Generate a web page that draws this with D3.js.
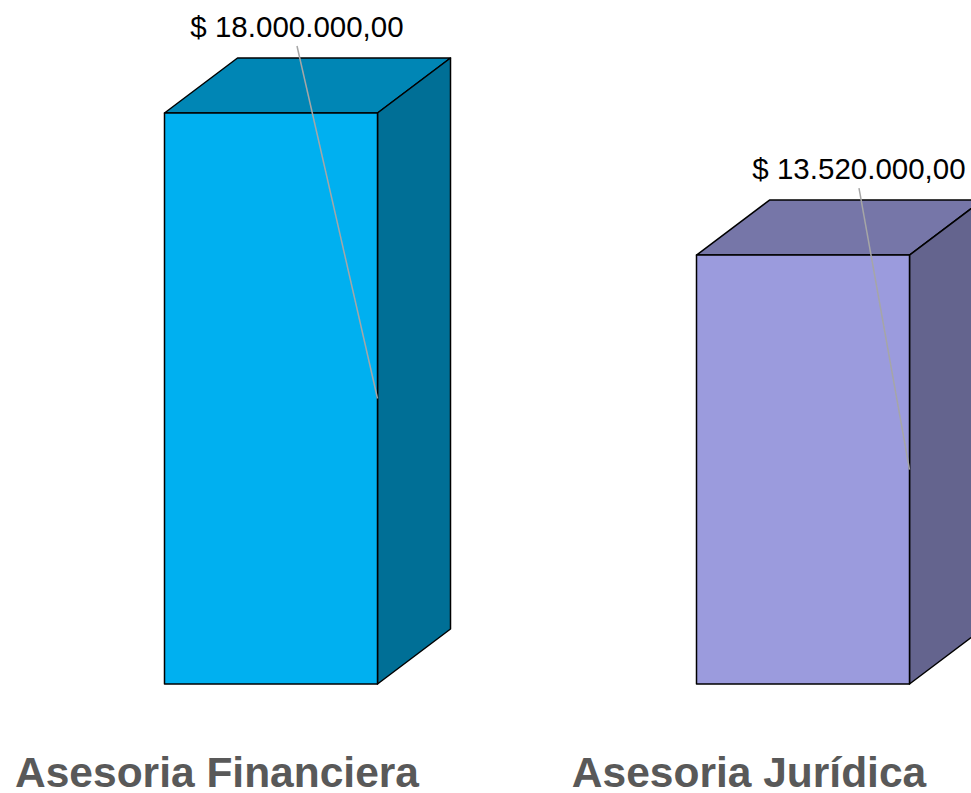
<html>
<head>
	<meta charset="utf-8">
	<script src="https://d3js.org/d3.v7.min.js"></script>
	<style>
		body{ margin: 0; background: #fff; }
		svg{ display: block; }
		.face{ stroke: #000; stroke-width: 1.5; stroke-linejoin: round; }
		.leader{ stroke: #a6a6a6; stroke-width: 1.5; fill: none; }
		.value{ font-family: "Liberation Sans", Arial, sans-serif; font-size: 29.5px; fill: #000; }
		.cat{ font-family: "Liberation Sans", Arial, sans-serif; font-size: 42.5px; font-weight: bold; fill: #595959; }
	</style>
</head>
<body>
	<script>

var categories = [ "Asesoria Financiera", "Asesoria Jurídica" ];
var values = [ 18000000, 13520000 ];
var valueLabels = [ "$ 18.000.000,00", "$ 13.520.000,00" ];

var frontColors = [ "#00b0f0", "#9b9bdd" ],
	topColors = [ "#0086b5", "#7676a8" ],
	sideColors = [ "#006f96", "#64648e" ];

var width = 971,
	height = 793;

// 3d depth of the boxes
var depthX = 73,
	depthY = -55,
	barWidth = 213,
	barShift = 54;

// value labels were nudged by hand in the original
var labelDx = [ -47, -17 ];

var svg = d3.select( "body" )
	.append( "svg" )
	.attr( "width", width )
	.attr( "height", height );

var x = d3.scalePoint()
	.domain( categories )
	.range( [ 217, 749 ] );

var y = d3.scaleLinear()
	.domain( [ 0, 18000000 ] )
	.range( [ 684, 113 ] );

var bars = svg.append( "g" )
	.selectAll( "g" )
	.data( categories )
	.enter()
	.append( "g" );

bars.each( function( c, i ){
	var g = d3.select( this ),
		x0 = x( c ) + barShift - barWidth / 2,
		x1 = x0 + barWidth,
		y0 = y( 0 ),
		y1 = y( values[i] );

	var line = d3.line();

	// top
	g.append( "path" )
		.attr( "class", "face" )
		.attr( "fill", topColors[i] )
		.attr( "d", line( [ [x0, y1], [x0 + depthX, y1 + depthY], [x1 + depthX, y1 + depthY], [x1, y1] ] ) + "Z" );

	// side
	g.append( "path" )
		.attr( "class", "face" )
		.attr( "fill", sideColors[i] )
		.attr( "d", line( [ [x1, y1], [x1 + depthX, y1 + depthY], [x1 + depthX, y0 + depthY], [x1, y0] ] ) + "Z" );

	// front
	g.append( "rect" )
		.attr( "class", "face" )
		.attr( "fill", frontColors[i] )
		.attr( "x", x0 )
		.attr( "y", y1 )
		.attr( "width", barWidth )
		.attr( "height", y0 - y1 );

	var lx = ( x0 + x1 ) / 2 + depthX + labelDx[i],
		ly = y1 + depthY - 21;

	g.append( "path" )
		.attr( "class", "leader" )
		.attr( "d", line( [ [lx, ly + 9], [x1, ( y0 + y1 ) / 2] ] ) );

	g.append( "text" )
		.attr( "class", "value" )
		.attr( "x", lx )
		.attr( "y", ly )
		.attr( "text-anchor", "middle" )
		.text( valueLabels[i] );
});

svg.append( "g" )
	.selectAll( "text" )
	.data( categories )
	.enter()
	.append( "text" )
	.attr( "class", "cat" )
	.attr( "x", function( d ){ return x( d ); } )
	.attr( "y", 787 )
	.attr( "text-anchor", "middle" )
	.text( function( d ){ return d; } );

	</script>
</body>
</html>
